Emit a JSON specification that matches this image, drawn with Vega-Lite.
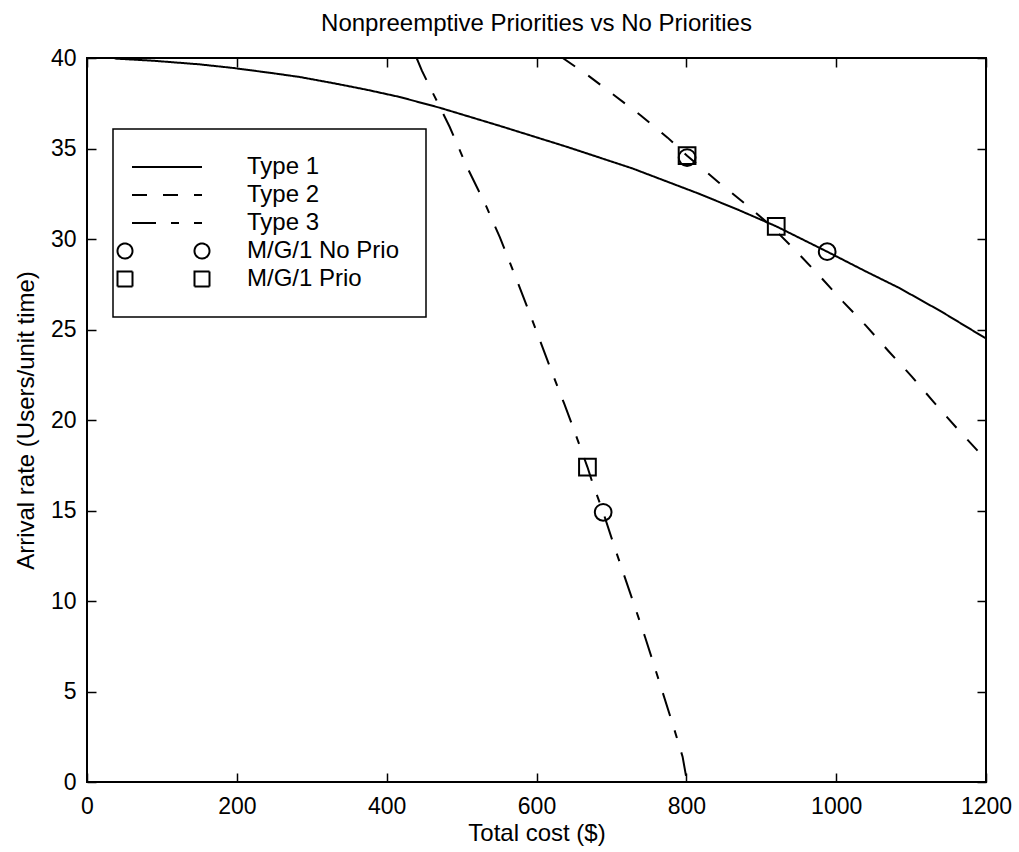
{
  "$schema": "https://vega.github.io/schema/vega-lite/v6.json",
  "width": 899,
  "height": 724,
  "autosize": {"type": "none"},
  "padding": {"left": 87, "top": 58, "right": 33, "bottom": 70},
  "background": "white",
  "title": {"text": "Nonpreemptive Priorities vs No Priorities", "font": "Liberation Sans", "fontSize": 24, "fontWeight": "normal", "offset": 11, "color": "black"},
  "config": {
    "view": {"stroke": "black", "strokeWidth": 2},
    "axis": {"domain": false, "grid": false, "labelFlush": false, "labelFont": "Liberation Sans", "labelFontSize": 23, "labelColor": "black", "titleFont": "Liberation Sans", "titleFontSize": 24, "titleFontWeight": "normal", "titleColor": "black", "tickColor": "black", "tickWidth": 1.5, "tickSize": -9}
  },
  "datasets": {
    "curves": [
      {"series": "Type 1", "cost": 37, "rate": 39.97},
      {"series": "Type 1", "cost": 88, "rate": 39.85},
      {"series": "Type 1", "cost": 150, "rate": 39.65},
      {"series": "Type 1", "cost": 195, "rate": 39.45},
      {"series": "Type 1", "cost": 250, "rate": 39.15},
      {"series": "Type 1", "cost": 284, "rate": 38.95},
      {"series": "Type 1", "cost": 330, "rate": 38.6},
      {"series": "Type 1", "cost": 373, "rate": 38.25},
      {"series": "Type 1", "cost": 417, "rate": 37.85},
      {"series": "Type 1", "cost": 471, "rate": 37.25},
      {"series": "Type 1", "cost": 551, "rate": 36.25},
      {"series": "Type 1", "cost": 640, "rate": 35.1},
      {"series": "Type 1", "cost": 728, "rate": 33.9},
      {"series": "Type 1", "cost": 817, "rate": 32.5},
      {"series": "Type 1", "cost": 870, "rate": 31.6},
      {"series": "Type 1", "cost": 920, "rate": 30.7},
      {"series": "Type 1", "cost": 988, "rate": 29.3},
      {"series": "Type 1", "cost": 1040, "rate": 28.2},
      {"series": "Type 1", "cost": 1084, "rate": 27.3},
      {"series": "Type 1", "cost": 1140, "rate": 26.0},
      {"series": "Type 1", "cost": 1200, "rate": 24.5},
      {"series": "Type 2", "cost": 635, "rate": 40.0},
      {"series": "Type 2", "cost": 670, "rate": 39.0},
      {"series": "Type 2", "cost": 705, "rate": 37.9},
      {"series": "Type 2", "cost": 740, "rate": 36.8},
      {"series": "Type 2", "cost": 775, "rate": 35.6},
      {"series": "Type 2", "cost": 801, "rate": 34.6},
      {"series": "Type 2", "cost": 844, "rate": 33.1},
      {"series": "Type 2", "cost": 880, "rate": 31.9},
      {"series": "Type 2", "cost": 911, "rate": 30.8},
      {"series": "Type 2", "cost": 945, "rate": 29.4},
      {"series": "Type 2", "cost": 977, "rate": 28.0},
      {"series": "Type 2", "cost": 1010, "rate": 26.5},
      {"series": "Type 2", "cost": 1040, "rate": 25.2},
      {"series": "Type 2", "cost": 1070, "rate": 23.8},
      {"series": "Type 2", "cost": 1101, "rate": 22.4},
      {"series": "Type 2", "cost": 1130, "rate": 21.0},
      {"series": "Type 2", "cost": 1160, "rate": 19.6},
      {"series": "Type 2", "cost": 1200, "rate": 17.8},
      {"series": "Type 3", "cost": 440, "rate": 40.0},
      {"series": "Type 3", "cost": 447, "rate": 39.3},
      {"series": "Type 3", "cost": 460, "rate": 38.2},
      {"series": "Type 3", "cost": 471, "rate": 37.3},
      {"series": "Type 3", "cost": 484, "rate": 36.2},
      {"series": "Type 3", "cost": 507, "rate": 34.0},
      {"series": "Type 3", "cost": 520, "rate": 32.9},
      {"series": "Type 3", "cost": 533, "rate": 31.8},
      {"series": "Type 3", "cost": 551, "rate": 30.1},
      {"series": "Type 3", "cost": 575, "rate": 27.6},
      {"series": "Type 3", "cost": 600, "rate": 24.9},
      {"series": "Type 3", "cost": 620, "rate": 22.7},
      {"series": "Type 3", "cost": 637, "rate": 20.9},
      {"series": "Type 3", "cost": 647, "rate": 19.8},
      {"series": "Type 3", "cost": 668, "rate": 17.4},
      {"series": "Type 3", "cost": 675, "rate": 16.5},
      {"series": "Type 3", "cost": 689, "rate": 14.9},
      {"series": "Type 3", "cost": 704, "rate": 13.0},
      {"series": "Type 3", "cost": 727, "rate": 10.2},
      {"series": "Type 3", "cost": 745, "rate": 8.0},
      {"series": "Type 3", "cost": 765, "rate": 5.4},
      {"series": "Type 3", "cost": 784, "rate": 2.9},
      {"series": "Type 3", "cost": 795, "rate": 1.4},
      {"series": "Type 3", "cost": 801, "rate": 0.0}
    ],
    "markers": [
      {"series": "M/G/1 No Prio", "cost": 801, "rate": 34.5},
      {"series": "M/G/1 No Prio", "cost": 988, "rate": 29.3},
      {"series": "M/G/1 No Prio", "cost": 689, "rate": 14.9},
      {"series": "M/G/1 Prio", "cost": 801, "rate": 34.6},
      {"series": "M/G/1 Prio", "cost": 920, "rate": 30.7},
      {"series": "M/G/1 Prio", "cost": 668, "rate": 17.4}
    ]
  },
  "layer": [
    {
      "data": {"name": "curves"},
      "mark": {"type": "line", "color": "black", "strokeWidth": 2, "clip": true},
      "encoding": {
        "x": {"field": "cost", "type": "quantitative", "scale": {"domain": [0, 1200], "nice": false},
              "axis": {"orient": "bottom", "values": [0, 200, 400, 600, 800, 1000, 1200], "format": "d", "title": "Total cost ($)", "labelPadding": 22, "titlePadding": 3}},
        "y": {"field": "rate", "type": "quantitative", "scale": {"domain": [0, 40], "nice": false},
              "axis": {"orient": "left", "values": [0, 5, 10, 15, 20, 25, 30, 35, 40], "title": "Arrival rate (Users/unit time)", "labelPadding": 20, "titlePadding": 12}},
        "strokeDash": {"field": "series", "type": "nominal",
          "scale": {"domain": ["Type 1", "Type 2", "Type 3", "M/G/1 No Prio", "M/G/1 Prio"], "range": [[1, 0], [15, 16], [24, 15, 8, 15], [1, 0], [1, 0]]},
          "legend": {
            "orient": "none", "legendX": 26, "legendY": 71, "title": null, "direction": "vertical",
            "padding": 26, "symbolSize": 400, "labelFont": "Liberation Sans", "labelFontSize": 24, "labelColor": "black",
            "labelOffset": 70, "rowPadding": 4, "strokeColor": "black", "fillColor": "white", "symbolStrokeColor": "black",
            "symbolStrokeWidth": 2, "symbolOffset": 14, "labelLimit": 400,
            "encode": {
              "legend": {"update": {"strokeWidth": {"value": 1.5}}},
              "symbols": {"update": {
                "shape": {"signal": "datum.value === 'M/G/1 No Prio' ? 'M-3.25,0A0.75,0.75,0,1,1,-4.75,0A0.75,0.75,0,1,1,-3.25,0ZM4.45,0A0.75,0.75,0,1,1,2.95,0A0.75,0.75,0,1,1,4.45,0Z' : datum.value === 'M/G/1 Prio' ? 'M-4.75,-0.75H-3.25V0.75H-4.75ZM2.95,-0.75H4.45V0.75H2.95Z' : 'M-3.3,0H3.7'"},
                "size": {"value": 400},
                "fill": {"value": "transparent"},
                "stroke": {"value": "black"},
                "strokeWidth": {"value": 2}
              }}
            }
          }
        }
      }
    },
    {
      "data": {"name": "markers"},
      "mark": {"type": "point", "filled": false, "color": "black", "strokeWidth": 2, "size": 280, "opacity": 1},
      "encoding": {
        "x": {"field": "cost", "type": "quantitative", "scale": {"domain": [0, 1200], "nice": false},
              "axis": {"orient": "top", "values": [0, 200, 400, 600, 800, 1000, 1200], "labels": false, "title": null}},
        "y": {"field": "rate", "type": "quantitative", "scale": {"domain": [0, 40], "nice": false},
              "axis": {"orient": "right", "values": [0, 5, 10, 15, 20, 25, 30, 35, 40], "labels": false, "title": null}},
        "shape": {"field": "series", "type": "nominal", "scale": {"domain": ["M/G/1 No Prio", "M/G/1 Prio"], "range": ["circle", "square"]}, "legend": null}
      }
    }
  ]
}
